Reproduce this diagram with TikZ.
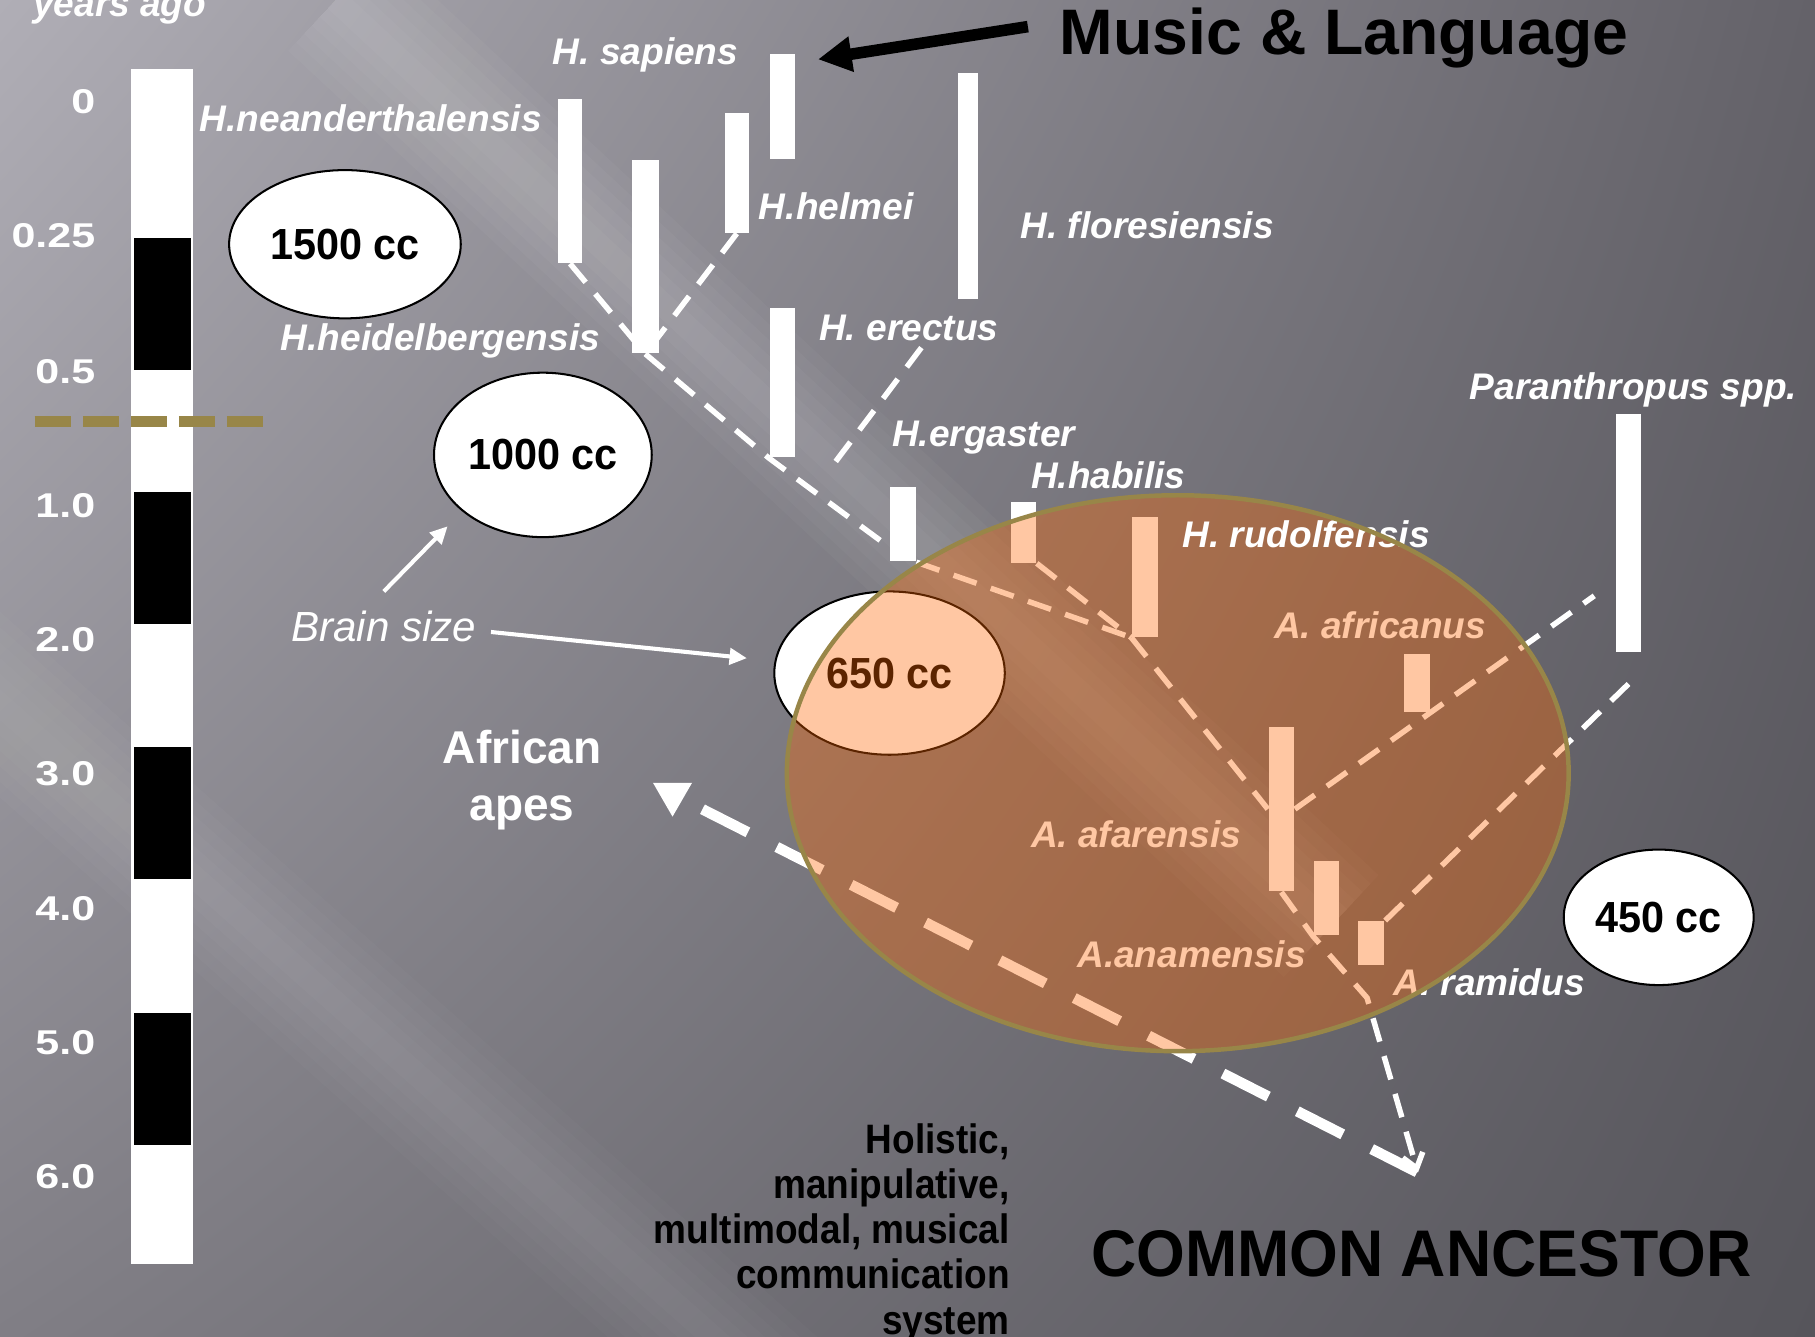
\documentclass[tikz,border=0pt]{standalone}
\usepackage{fontspec}
\setmainfont{Liberation Sans}
\newfontfamily\widesans[FakeStretch=1.25]{Liberation Sans}
\newfontfamily\ccsans[FakeStretch=0.95]{Liberation Sans}
\newfontfamily\narrowsans[FakeStretch=0.9]{Liberation Sans}
\usetikzlibrary{arrows.meta, calc, positioning, shapes.geometric, shadings}
\definecolor{bgUL}{RGB}{176,174,182}
\definecolor{bgUR}{RGB}{100,98,105}
\definecolor{bgLL}{RGB}{128,126,133}
\definecolor{bgLR}{RGB}{86,85,91}
\definecolor{ochre}{RGB}{255,102,0}
\definecolor{olivebrown}{RGB}{152,134,72}
\tikzset{
  bar/.style={fill=white, inner sep=0pt},
  species/.style={font=\bfseries\itshape\fontsize{9.1}{11}\selectfont, text=white, inner sep=0pt, anchor=base west},
  tick/.style={font=\widesans\bfseries\fontsize{8.45}{10}\selectfont, text=white, inner sep=0pt, anchor=base east},
  brain/.style={ellipse, draw=black, line width=0.5pt, fill=white, inner sep=0pt, font=\ccsans\bfseries\fontsize{10.7}{12}\selectfont},
  branch/.style={draw=white, line width=1.35pt, dash pattern=on 2.1mm off 1.3mm},
  apeline/.style={draw=white, line width=2.6pt, dash pattern=on 4.4mm off 2.8mm},
  pointer/.style={draw=white, line width=1pt, -{Triangle[length=1.5mm, width=1.4mm]}}
}
\begin{document}
\begin{tikzpicture}[x=0.01cm, y=-0.01cm, >=Latex]
  \useasboundingbox (0,0) rectangle (1568,1155);
  % slide background with soft light streaks
  \shade[upper left=bgUL, upper right=bgUR, lower left=bgLL, lower right=bgLR] (0,0) rectangle (1568,1155);
  \foreach \w in {2,4,...,12}{
    \draw[white, opacity=0.03, line width=\w mm] (290,0) -- (1150,800);
    \draw[white, opacity=0.02, line width=\w mm] (-100,520) -- (700,1230);}
  % time scale (million years ago)
  \node[species] (yrs) at (28,14) {years ago};
  \node[bar, minimum width=0.54cm, minimum height=10.32cm] (scale) at (140,576) {};
  \foreach \y [count=\i] in {263,482,702,932}{
    \node[fill=black, inner sep=0pt, minimum width=0.49cm, minimum height=1.14cm] (chron\i) at (140.5,\y) {};}
  \foreach \t/\y [count=\i] in {0/98, 0.25/214, 0.5/331, 1.0/447, 2.0/563, 3.0/679, 4.0/795, 5.0/911, 6.0/1027}{
    \node[tick] (tick\i) at (83,\y) {\t};}
  \draw[olivebrown, line width=0.1cm, dash pattern=on 3.1mm off 1.05mm] (30,364) -- (228,364);
  % species ranges
  \foreach \name/\x/\y/\w/\h in {nea/492.5/156.5/.21/1.41, hei/557.5/221.5/.23/1.67, hel/636.5/149.5/.21/1.03,
      sap/676/92/.22/.90, flo/836.5/160.5/.17/1.95, ere/676/330.5/.22/1.29, erg/780/453/.22/.64,
      hab/884/460/.22/.52, rud/989/498.5/.22/1.03, afr/1224/590/.22/.50, afa/1107/699/.22/1.42,
      ana/1146/776/.22/.64, ram/1184.5/815/.23/.38, par/1407/460.5/.22/2.05}{
    \node[bar, minimum width=\w cm, minimum height=\h cm] (\name) at (\x,\y) {};}
  % species names
  \foreach \name/\txt/\x/\y in {lsap/H. sapiens/477/56, lnea/H.neanderthalensis/172/114, lhel/H.helmei/655/190,
      lflo/H. floresiensis/881/206, lhei/H.heidelbergensis/242/303, lere/H. erectus/707/294,
      lerg/H.ergaster/770/386, lhab/H.habilis/890/422, lpar/Paranthropus spp./1269/345,
      lafr/A. africanus/1100/552, lafa/A. afarensis/890/732, lana/A.anamensis/930/836, lram/A. ramidus/1203/860}{
    \node[species] (\name) at (\x,\y) {\txt};}
  % branching lines
  \coordinate (floBase) at (718,404);
  \coordinate (parA) at ($(par.south west)+(-18,-49)$);
  \coordinate (ramPass) at (1181,862);
  \coordinate (ancestor) at (1225,1013);
  \draw[branch] (nea.south) -- (hei.south);
  \draw[branch] (hel.south) -- (hei.south);
  \draw[branch] (hei.south) -- (ere.south west) -- ([yshift=1.3mm]erg.south west);
  \draw[branch, shorten <=5.2mm] (flo.south west) -- (floBase);
  \draw[branch] (erg.south east) -- (rud.south west);
  \draw[branch] (hab.south east) -- (rud.south west);
  \draw[branch] (rud.south west) -- (afa.west);
  \draw[branch] (afa.east) -- (parA);
  \draw[branch] (ram.north east) -- ([yshift=-2.7mm]par.south);
  \draw[branch, -{Straight Barb[length=1.2mm, width=1.8mm]}] (afa.south) -- (ana.south west) -- (ramPass) -- (ancestor);
  % African apes lineage
  \node[font=\bfseries\fontsize{11.3}{14.1}\selectfont, text=white, align=center, inner sep=0pt, anchor=north] (apes) at (451,630) {African\\apes};
  \node[regular polygon, regular polygon sides=3, shape border rotate=180, fill=white, inner sep=0pt, minimum size=3.9mm] (apesTip) at (581,686) {};
  \draw[apeline, shorten <=2.9mm] (apesTip.center) -- (ancestor);
  % brain sizes
  \node[brain, minimum width=2cm, minimum height=1.28cm] (b1500) at (298,211) {1500 cc};
  \node[brain, minimum width=1.88cm, minimum height=1.42cm] (b1000) at (469,393) {1000 cc};
  \node[brain, minimum width=1.99cm, minimum height=1.41cm] (b650) at (768.5,581.5) {650 cc};
  \node[brain, minimum width=1.64cm, minimum height=1.17cm] (b450) at (1433,792.5) {450 cc};
  \node[font=\itshape\fontsize{10.35}{12}\selectfont, text=white, inner sep=0pt, anchor=base west] (brain) at (251,554) {Brain size};
  \draw[pointer, shorten >=1.8mm] ([yshift=1.6mm]brain.north) -- (b1000.215);
  \draw[pointer, shorten >=2.4mm] ([shift={(12,5)}]brain.east) -- (b650.174);
  % australopith zone
  \node[ellipse, fill=ochre, fill opacity=0.36, inner sep=0pt, minimum width=6.75cm, minimum height=4.8cm] (australo) at (1017.5,668) {};
  \node[species] (lrud) at (1021,473) {H. rudolfensis};
  \draw[olivebrown, line width=1.1pt] (australo.center) ellipse [x radius=3.375cm, y radius=2.4cm];
  % headings
  \node[font=\bfseries\fontsize{15.8}{18}\selectfont, inner sep=0pt, anchor=base west] (title) at (915,47.5) {Music \& Language};
  \coordinate (sapTip) at ($(sap.north east)+(19,5)$);
  \draw[line width=0.1cm, -{Triangle[length=2.9mm, width=2.9mm]}] ($(title.base west)+(-27,-24.5)$) -- (sapTip);
  \node[font=\ccsans\bfseries\fontsize{16.2}{19}\selectfont, inner sep=0pt, anchor=base west] (ancestorTxt) at (942,1103) {COMMON ANCESTOR};
  \node[font=\narrowsans\bfseries\fontsize{10.1}{11.1}\selectfont, align=right, inner sep=0pt, anchor=north east] (holistic) at (873,970) {Holistic,\\manipulative,\\multimodal, musical\\communication\\system};
\end{tikzpicture}
\end{document}
